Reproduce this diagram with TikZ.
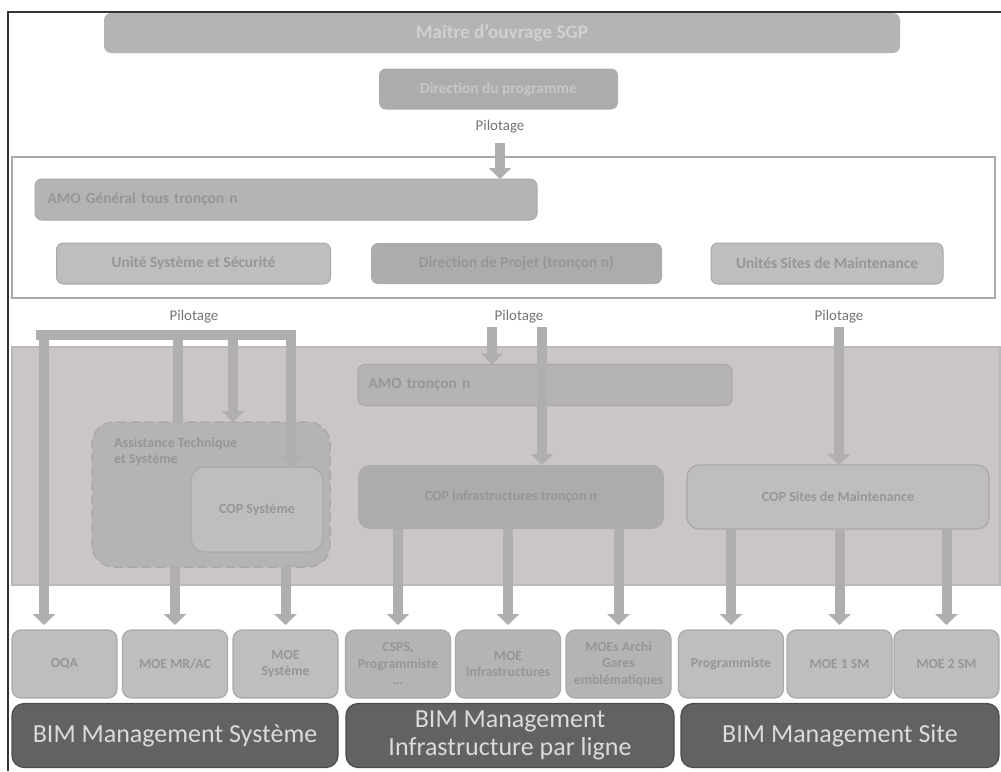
\documentclass[tikz,border=0pt]{standalone}
\usepackage{fontspec}
\setmainfont{Carlito}
\usetikzlibrary{arrows.meta}
\definecolor{bandgray}{HTML}{C9C6C5}
\definecolor{linegray}{HTML}{AAA8A8}
\definecolor{arrgray}{HTML}{B0AEAE}
\definecolor{txtgray}{HTML}{979595}
\definecolor{lightbox}{HTML}{BFBDBD}
\definecolor{midbox}{HTML}{B5B3B3}
\definecolor{darkbox}{HTML}{ADABAB}
\definecolor{bimgray}{HTML}{636162}
\begin{document}
\begin{tikzpicture}[x=1pt, y=-1pt,
	box/.style={rounded corners=7pt, inner sep=0pt, outer sep=0pt, minimum height=41pt, text=txtgray, font=\bfseries\fontsize{15.4}{17}\selectfont},
	cop/.style={box, rounded corners=12pt, font=\bfseries\fontsize{14}{16}\selectfont},
	small/.style={rounded corners=9pt, inner sep=0pt, outer sep=0pt, draw=linegray, line width=1.2pt, minimum width=105pt, minimum height=68pt, text=txtgray, align=center, font=\bfseries\fontsize{13.8}{16.5}\selectfont},
	bim/.style={rounded corners=12pt, inner sep=0pt, outer sep=0pt, fill=bimgray, draw=black!70, line width=1.2pt, minimum height=64pt, text=white!86!black, align=center, font=\fontsize{26}{28.5}\selectfont},
	pil/.style={text=black!55, font=\fontsize{14.9}{16}\selectfont},
	arr/.style={arrgray, line width=10pt, -{Triangle[width=22pt,length=11pt]}},
	pipe/.style={arrgray, line width=10pt}]
	\useasboundingbox (0,0) rectangle (1001,771);
	\draw[black!80, line width=1.3pt] (8,771) -- (8,12) -- (1001,12);
	\node[box, fill=midbox, minimum width=796pt, minimum height=40pt, text=white!82!black, font=\bfseries\fontsize{19.2}{22}\selectfont] (sgp) at (502,33) {Maître d’ouvrage SGP};
	\node[box, fill=darkbox, minimum width=239pt, text=white!78!black] (dirprog) at (498.5,89) {Direction du programme};
	\node[pil] (pil0) at (500,127) {Pilotage};
	\draw[linegray, line width=1.5pt, fill=white] (12,157) rectangle (995,298);
	\node[box, fill=midbox, draw=linegray, line width=1pt, text width=477pt, inner xsep=12.5pt, align=left] (amog) at (286,199.5) {AMO Général tous tronçon n};
	\node[box, fill=lightbox, draw=linegray, line width=1pt, minimum width=274pt] (unisys) at (193.5,263.5) {Unité Système et Sécurité};
	\node[box, fill=darkbox, minimum width=291pt] (dirproj) at (516.5,263.5) {Direction de Projet (tronçon n)};
	\node[box, fill=lightbox, draw=linegray, line width=1pt, minimum width=232pt] (unism) at (827,263.5) {Unités Sites de Maintenance};
	\draw[arr, shorten <=6pt] (pil0.south) -- (pil0.south |- amog.north);
	\node[pil] (pilS) at (194,317) {Pilotage};
	\node[pil] (pilI) at (519,317) {Pilotage};
	\node[pil] (pilM) at (839,317) {Pilotage};
	\draw[linegray!80, line width=1.5pt, fill=bandgray] (12,347) rectangle (1000,585);
	\node[box, fill=midbox, draw=linegray, line width=1.2pt, text width=353pt, inner xsep=10.5pt, align=left] (amot) at (545,385) {AMO tronçon n};
	\node[box, rounded corners=22pt, fill=midbox, draw=linegray, dashed, dash pattern=on 9pt off 5pt, line width=1.5pt, minimum width=238pt, minimum height=145pt] (ats) at (211,494.5) {};
	\node[anchor=north west, text=txtgray, align=left, inner sep=0pt, font=\bfseries\fontsize{14}{16.7}\selectfont] (atslbl) at (114,437) {Assistance Technique\\et Système};
	\node[cop, rounded corners=14pt, fill=lightbox, draw=linegray, line width=1.2pt, minimum width=132pt, minimum height=85pt] (copsys) at (257,509.5) {COP Système};
	\node[cop, fill=darkbox, minimum width=306pt, minimum height=64pt] (copinf) at (511,497) {COP Infrastructures tronçon n};
	\node[cop, fill=lightbox, draw=linegray, line width=1.2pt, minimum width=302pt, minimum height=64pt] (copsm) at (838,497) {COP Sites de Maintenance};
	\coordinate (barL) at (36,334.5);
	\coordinate (barR) at (296,334.5);
	\coordinate (b1) at (44,334.5);
	\coordinate (b2) at (178,334.5);
	\coordinate (b3) at (233,334.5);
	\coordinate (b4) at (291,334.5);
	\coordinate (tA) at (492,327);
	\coordinate (tB) at (542,327);
	\coordinate (tC) at (839,327);
	\node[small, fill=lightbox] (oqa) at (64.5,664) {OQA};
	\node[small, fill=lightbox] (moemr) at (175,664) {MOE MR/AC};
	\node[small, fill=lightbox] (moesys) at (285.5,664) {MOE\\Système};
	\node[small, fill=midbox] (csps) at (398,664) {CSPS,\\Programmiste\\\dots};
	\node[small, fill=midbox] (moeinf) at (508,664) {MOE\\Infrastructures};
	\node[small, fill=midbox] (moearchi) at (618.5,664) {MOEs Archi\\Gares\\emblématiques};
	\node[small, fill=lightbox] (prog) at (731,664) {Programmiste};
	\node[small, fill=lightbox] (moe1) at (839.5,664) {MOE 1 SM};
	\node[small, fill=lightbox] (moe2) at (946.5,664) {MOE 2 SM};
	\node[bim, minimum width=326pt] (bimsys) at (175,735.5) {BIM Management Système};
	\node[bim, minimum width=328pt] (biminf) at (510,735.5) {BIM Management\\Infrastructure par ligne};
	\node[bim, minimum width=318pt] (bimsite) at (840,735.5) {BIM Management Site};
	\draw[pipe] (barL) -- (barR);
	\draw[arr, shorten >=5pt] (b1) -- (b1 |- oqa.north);
	\draw[pipe] (b2) -- (b2 |- ats.north);
	\draw[arr] (b3) -- (b3 |- ats.north);
	\draw[arr] (b4) -- (b4 |- copsys.north);
	\draw[arr] (tA) -- (tA |- amot.north);
	\draw[arr] (tB) -- (tB |- copinf.north);
	\draw[arr] (tC) -- (tC |- copsm.north);
	\draw[arr, shorten >=5pt] (moemr.north |- ats.south) -- (moemr.north);
	\draw[arr, shorten >=5pt] (moesys.north |- ats.south) -- (moesys.north);
	\foreach \n in {csps, moeinf, moearchi}
		\draw[arr, shorten >=5pt] (\n.north |- copinf.south) -- (\n.north);
	\foreach \n in {prog, moe1, moe2}
		\draw[arr, shorten >=5pt] (\n.north |- copsm.south) -- (\n.north);
\end{tikzpicture}
\end{document}
